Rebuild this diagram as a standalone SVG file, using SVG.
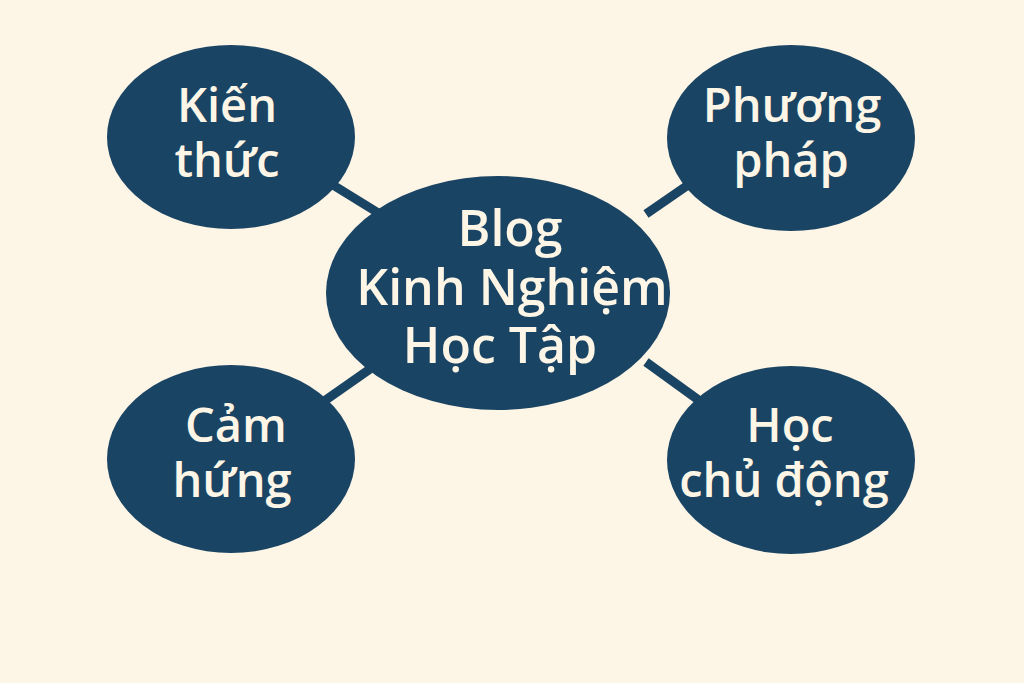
<svg xmlns="http://www.w3.org/2000/svg" width="1024" height="683" viewBox="0 0 1024 683">
<style>
.n{fill:#1a4463}
.t{fill:#fdf5e6;font-family:"Open Sans","Noto Sans",sans-serif;font-weight:600;font-size:47px;text-anchor:middle}
.b{font-size:50px}
.c{stroke:#1a4463;stroke-width:9;stroke-linecap:butt}
</style>
<rect width="1024" height="683" fill="#fdf5e6"/>
<g id="connectors">
<line class="c" x1="320" y1="177" x2="380" y2="214"/>
<line class="c" x1="646" y1="214" x2="704" y2="174"/>
<line class="c" x1="320" y1="404" x2="380" y2="362"/>
<line class="c" x1="646" y1="362" x2="704" y2="404"/>
</g>
<g id="center">
<ellipse class="n" cx="498" cy="293" rx="172" ry="117"/>
<text class="t b" x="510" y="246">Blog</text>
<text class="t b" x="512" y="305">Kinh Nghiệm</text>
<text class="t b" x="500" y="363">Học Tập</text>
</g>
<g id="kien-thuc">
<ellipse class="n" cx="231" cy="137" rx="124" ry="92"/>
<text class="t" x="227" y="122">Kiến</text>
<text class="t" x="227" y="177">thức</text>
</g>
<g id="phuong-phap">
<ellipse class="n" cx="791" cy="138" rx="124" ry="93"/>
<text class="t" x="792" y="122">Phương</text>
<text class="t" x="791" y="177">pháp</text>
</g>
<g id="cam-hung">
<ellipse class="n" cx="231" cy="459" rx="124" ry="94"/>
<text class="t" x="236" y="442">Cảm</text>
<text class="t" x="232" y="497">hứng</text>
</g>
<g id="hoc-chu-dong">
<ellipse class="n" cx="791" cy="460" rx="124" ry="94"/>
<text class="t" x="790" y="442">Học</text>
<text class="t" x="784" y="497">chủ động</text>
</g>
</svg>
